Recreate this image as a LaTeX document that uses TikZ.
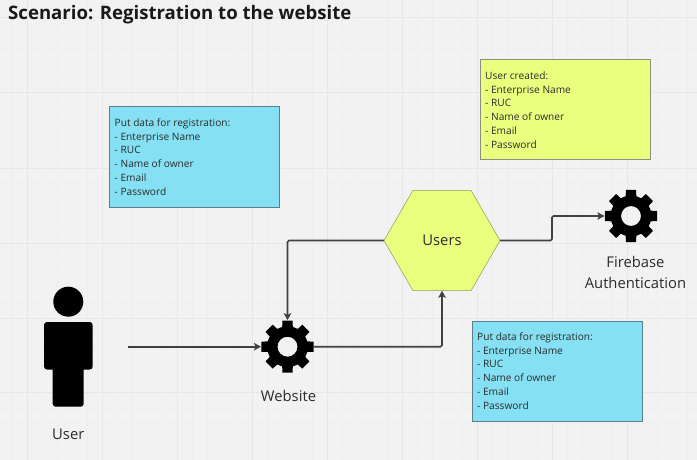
\documentclass[tikz,border=0pt]{standalone}
\usepackage{fontspec}
\setmainfont{Open Sans}
\usetikzlibrary{arrows.meta,shapes.geometric}
\definecolor{bgc}{HTML}{F2F2F2}
\definecolor{gridmaj}{HTML}{E7E7E7}
\definecolor{gridmin}{HTML}{EEEEEE}
\definecolor{cyanbox}{HTML}{85E0F3}
\definecolor{cyanedge}{HTML}{5A7F88}
\definecolor{yellowbox}{HTML}{EBFF7F}
\definecolor{yellowedge}{HTML}{8A8F78}
\definecolor{hexfill}{HTML}{EBFF7F}
\definecolor{hexedge}{HTML}{8E9A5A}
\definecolor{linec}{HTML}{414141}
\definecolor{textc}{HTML}{2B2B2B}
\tikzset{
  notebox/.style={draw,line width=0.9pt,minimum width=170pt,minimum height=100pt,inner sep=0pt,anchor=north west},
  notetext/.style={anchor=west,text=textc,font=\fontsize{10.15}{13.8}\selectfont,align=left,inner sep=0pt},
  caption/.style={text=textc,font=\fontsize{14.8}{21}\selectfont,align=center,inner sep=0pt},
  flow/.style={draw=linec,line width=1.7pt,rounded corners=1.5pt,-{Stealth[length=7pt,width=7.5pt,inset=1.5pt]}},
  iconbox/.style={minimum size=53pt,inner sep=0pt,outer sep=0pt,circle},
}
\newcommand{\gearat}[1]{%
  \fill[black,even odd rule,shift={(#1)}]
  (-15:20.5)
  \foreach \a in {0,45,...,315} {
    -- (\a-15:20.5) -- (\a-11:26.5) -- (\a+11:26.5) -- (\a+15:20.5)
  } -- cycle (0,0) circle[radius=10];
}
\newcommand{\notelines}{Put data for registration:\\- Enterprise Name\\- RUC\\- Name of owner\\- Email\\- Password}
\begin{document}
\begin{tikzpicture}[x=1pt,y=-1pt]
\useasboundingbox (0,0) rectangle (697,460);
\fill[bgc] (0,0) rectangle (697,460);
\foreach \x in {12,42,57,87,117,132,162,192,207,237,267,282,312,342,357,387,417,432,462,492,507,537,567,582,612,642,657,687}
  \draw[gridmin,line width=0.7pt] (\x,0) -- (\x,460);
\foreach \y in {3,33,48,78,108,123,153,183,198,228,258,273,303,333,348,378,408,423,453}
  \draw[gridmin,line width=0.7pt] (0,\y) -- (697,\y);
\foreach \x in {27,102,177,252,327,402,477,552,627}
  \draw[gridmaj,line width=1pt] (\x,0) -- (\x,460);
\foreach \y in {18,93,168,243,318,392}
  \draw[gridmaj,line width=1pt] (0,\y) -- (697,\y);

\node[anchor=base west,inner sep=0pt,text=black!90,font=\fontsize{18.6}{22}\selectfont\bfseries] (title) at (8,19.5) {Scenario: Registration to the website};

\node[notebox,fill=cyanbox,draw=cyanedge] (note1) at (109,106.5) {};
\node[notetext] (note1t) at (114.5,157) {\notelines};
\node[notebox,fill=cyanbox,draw=cyanedge] (note2) at (472,320.5) {};
\node[notetext] (note2t) at (477,371) {\notelines};
\node[notebox,fill=yellowbox,draw=yellowedge] (note3) at (480,59) {};
\node[notetext] (note3t) at (485,110) {User created:\\- Enterprise Name\\- RUC\\- Name of owner\\- Email\\- Password};

\node[regular polygon,regular polygon sides=6,minimum size=116pt,inner sep=0pt,outer sep=0pt,fill=hexfill,draw=hexedge,line width=0.5pt,text=textc,font=\fontsize{14.8}{17}\selectfont] (users) at (442,240.5) {Users};

\fill[black,rounded corners=3pt] (44,322) rectangle (92.7,369.5);
\fill[black,rounded corners=3pt] (52.7,360) rectangle (83.7,406.7);
\fill[black] (68.3,301.7) circle[radius=15];
\node[inner sep=0pt,minimum width=49pt,minimum height=105pt] (user) at (68.3,339) {};
\coordinate (start) at (128,346.7);

\node[iconbox] (website) at (287.5,346.7) {};
\gearat{287.5,346.7}
\node[iconbox] (firebase) at (631,216) {};
\gearat{631,216}

\node[caption] (userl) at (68.3,434.5) {User};
\node[caption] (websitel) at (288.5,396) {Website};
\node[caption] (firebasel) at (635.5,272.8) {Firebase\\Authentication};

\draw[flow] (start) -- (website.west);
\draw[flow] (users.west) -| (website.north);
\draw[flow] (website.east) -| (users.south);
\draw[flow] (users.east) -- (552,240.5) -- (552,216) -- (firebase.west);
\end{tikzpicture}
\end{document}
